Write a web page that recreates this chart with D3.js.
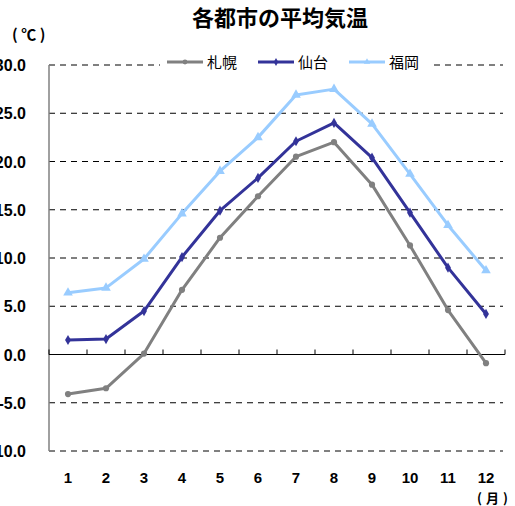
<!DOCTYPE html>
<html><head><meta charset="utf-8">
<script src="https://cdn.jsdelivr.net/npm/d3@7"></script>
<style>body{margin:0;background:#fff;}svg{display:block;}</style>
</head><body>
<script>
const months = ["1","2","3","4","5","6","7","8","9","10","11","12"];
const seriesNames = ["札幌","仙台","福岡"];
const sapporo = [-4.1,-3.5,0.1,6.7,12.1,16.4,20.5,22.0,17.6,11.3,4.6,-0.9];
const sendai = [1.5,1.6,4.5,10.1,14.9,18.3,22.1,24.0,20.4,14.7,9.0,4.2];
const fukuoka = [6.4,6.9,9.9,14.6,19.0,22.5,26.9,27.5,23.9,18.7,13.4,8.7];
const yTicks = [-10,-5,0,5,10,15,20,25,30];
const colors = ["#808080","#333399","#99CCFF"];
const symbols = [d3.symbolCircle, d3.symbolDiamond, d3.symbolTriangle];

const W=515,H=506;
const svg=d3.select("body").append("svg").attr("width",W).attr("height",H);
const font='"Noto Sans CJK JP","DejaVu Sans",sans-serif';
const numFont='"Liberation Sans",Arial,sans-serif';
const x=d3.scaleBand().domain(months).range([49,505]);
const y=d3.scaleLinear().domain([-10,30]).range([451,65]);

// gridlines
svg.append("g").selectAll("line").data(yTicks.filter(d=>d!==0)).join("line")
  .attr("x1",49).attr("x2",503).attr("y1",d=>y(d)).attr("y2",d=>y(d))
  .attr("stroke","#000").attr("stroke-width",1).attr("stroke-dasharray","6,5");

// y axis
svg.append("line").attr("x1",49).attr("x2",49).attr("y1",y(30)).attr("y2",y(-10)).attr("stroke","#808080").attr("stroke-width",1.5);
// zero line
svg.append("line").attr("x1",49).attr("x2",505).attr("y1",y(0)).attr("y2",y(0)).attr("stroke","#000").attr("stroke-width",1.2);
svg.append("g").selectAll("line").data(months).join("line")
  .attr("x1",d=>x(d)).attr("x2",d=>x(d)).attr("y1",y(0)).attr("y2",y(0)-5)
  .attr("stroke","#000").attr("stroke-width",1);
svg.append("line").attr("x1",505).attr("x2",505).attr("y1",y(0)).attr("y2",y(0)-5).attr("stroke","#000");

// y tick labels (reference clips the wider labels at the left edge)
svg.append("g").selectAll("text").data(yTicks).join("text")
  .attr("x",26).attr("y",d=>y(d)+6).attr("text-anchor","end")
  .attr("font-family",numFont).attr("font-weight","bold").attr("font-size",16)
  .text(d=>d.toFixed(1));

// x labels
svg.append("g").selectAll("text").data(months).join("text")
  .attr("x",d=>x(d)+x.bandwidth()/2).attr("y",483).attr("text-anchor","middle")
  .attr("font-family",numFont).attr("font-weight","bold").attr("font-size",15)
  .text(d=>d);

// legend
const lg=svg.append("g");
lg.append("rect").attr("x",160).attr("y",52).attr("width",272).attr("height",22).attr("fill","#fff");
const legX=[167,258,349];
seriesNames.forEach((n,i)=>{
  lg.append("line").attr("x1",legX[i]).attr("x2",legX[i]+36).attr("y1",62).attr("y2",62).attr("stroke",colors[i]).attr("stroke-width",3);
  lg.append("path").attr("d",d3.symbol().type(symbols[i]).size(18)()).attr("transform",`translate(${legX[i]+18},62)`).attr("fill",colors[i]);
  lg.append("text").attr("x",legX[i]+40).attr("y",68).attr("font-family",font).attr("font-size",15).text(n);
});

// series
const data=[sapporo,sendai,fukuoka];
const line=d3.line().x((d,i)=>x(months[i])+x.bandwidth()/2).y(d=>y(d));
data.forEach((s,k)=>{
  svg.append("path").datum(s).attr("d",line).attr("fill","none").attr("stroke",colors[k]).attr("stroke-width",3).attr("stroke-linejoin","round");
  svg.append("g").selectAll("path").data(s).join("path")
    .attr("d",d3.symbol().type(symbols[k]).size(k===2?40:30)())
    .attr("transform",(d,i)=>`translate(${x(months[i])+x.bandwidth()/2},${y(d)})`)
    .attr("fill",colors[k]);
});

// title and units
svg.append("text").attr("x",280).attr("y",26).attr("text-anchor","middle").attr("font-family",font).attr("font-weight","bold").attr("font-size",22).text("各都市の平均気温");
svg.append("text").attr("x",12).attr("y",40).attr("font-family",font).attr("font-weight","bold").attr("font-size",15).attr("letter-spacing",3.5).text("(℃)");
svg.append("text").attr("x",477).attr("y",503).attr("font-family",font).attr("font-weight","bold").attr("font-size",13).attr("letter-spacing",4).text("(月)");
</script>
</body></html>
